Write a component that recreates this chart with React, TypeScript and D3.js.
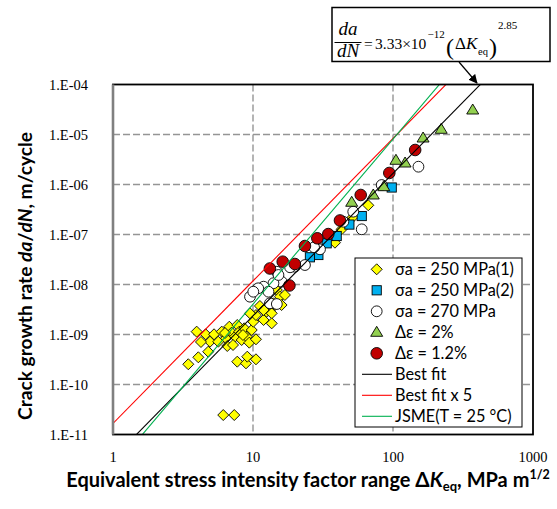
import React from 'react';
import * as d3 from 'd3';

// ---------- data ----------
const xTicks = [1, 10, 100, 1000];
const xTickLabels = ['1', '10', '100', '1000'];
const yTicks = [1e-11, 1e-10, 1e-9, 1e-8, 1e-7, 1e-6, 1e-5, 1e-4];
const yTickLabels = ['1.E-11', '1.E-10', '1.E-09', '1.E-08', '1.E-07', '1.E-06', '1.E-05', '1.E-04'];

// [ΔKeq (MPa m^1/2), da/dN (m/cycle)]
const sa250_1: [number, number][] = [
  [3.45, 2.54e-10], [3.96, 1.14e-9], [4.07, 3.5e-10], [4.59, 1.01e-9], [4.79, 4.53e-10],
  [4.93, 7.18e-10], [5.27, 1.01e-9], [5.65, 7.18e-10], [5.98, 1.14e-9], [6.41, 8.4e-10],
  [6.55, 5.89e-10], [6.77, 1.43e-9], [7.04, 1.09e-9], [7.44, 9.04e-10], [7.72, 1.55e-9],
  [7.98, 1.14e-9], [8.3, 7.76e-10], [8.66, 1.33e-9], [9.01, 9.04e-10], [9.41, 6.86e-10],
  [9.79, 1.23e-9], [10.5, 8.02e-10], [10.05, 1.8e-9], [10.5, 2.45e-9], [11.9, 1.95e-9],
  [12.5, 2.86e-9], [13.6, 2.65e-9], [14.4, 3.89e-9], [11.2, 3.72e-9], [9.52, 2.65e-9],
  [7.72, 2.86e-10], [8.91, 2.65e-10], [9.1, 3.6e-10], [10.5, 3.19e-10], [6.13, 2.45e-11],
  [7.35, 2.45e-11], [13.6, 1.67e-9], [7.2, 6.17e-10], [8.48, 9.77e-10], [6.31, 1.07e-9],
  [4.25, 7.08e-10], [14.8, 7.76e-9], [15.6, 5.7e-9], [16.9, 6.17e-9], [16.0, 3.89e-9],
  [14.0, 4.21e-9], [11.9, 3.09e-9], [38.5, 6.86e-8], [43.0, 1.27e-7], [51.5, 2.21e-7],
  [66.6, 3.84e-7],
];
const sa250_2: [number, number][] = [
  [97.9, 8.71e-7], [59.8, 2.34e-7], [48.8, 1.58e-7], [39.6, 9.33e-8], [33.6, 6.67e-8],
  [29.3, 3.89e-8], [25.5, 3.5e-8],
];
const sa270: [number, number][] = [
  [152, 2.27e-6], [83.0, 9.77e-7], [52.0, 2.86e-7], [59.8, 1.27e-7], [44.2, 1.8e-7],
  [30.1, 5.06e-8], [27.3, 5.55e-8], [23.5, 2.45e-8], [19.9, 2.27e-8], [18.4, 2.21e-8],
  [14.8, 1.8e-8], [16.0, 1.14e-8], [14.0, 1.06e-8], [11.9, 9.04e-9], [10.9, 8.4e-9],
  [12.9, 7.18e-9], [9.52, 5.7e-9], [13.2, 4.21e-9], [15.2, 1.55e-8], [10.05, 7.18e-9],
  [14.8, 4.07e-9],
];
const de2: [number, number][] = [
  [371, 3.09e-5], [221, 1.27e-5], [164, 8.51e-6], [122, 2.69e-6], [105, 3.05e-6],
  [85.9, 9.04e-7], [72.3, 6.17e-7], [50.7, 4.41e-7],
];
const de12: [number, number][] = [
  [144, 4.9e-6], [94.1, 1.7e-6], [58.8, 6.17e-7], [41.8, 1.91e-7], [34.5, 1.02e-7],
  [28.8, 8.4e-8], [23.5, 5.89e-8], [16.3, 2.86e-8], [19.9, 2.57e-8], [13.2, 2.09e-8],
  [18.2, 9.55e-9],
];
// da/dN = C * ΔK^m
const fitBest = { C: 3.33e-12, m: 2.85 };
const fitBest5 = { C: 3.33e-12 * 5, m: 2.85 };
const fitJSME = { C: 2.03e-12, m: 3.3 };

const legendLabels = [
  'σa = 250 MPa(1)', 'σa = 250 MPa(2)', 'σa = 270 MPa', 'Δε = 2%', 'Δε = 1.2%',
  'Best fit', 'Best fit x 5', 'JSME(T = 25 °C)',
];

// ---------- layout ----------
const W = 557, H = 509;
const L = 113, R = 533, T = 84.5, B = 434.5;
const x = d3.scaleLog().domain([1, 1000]).range([L, R]);
const y = d3.scaleLog().domain([1e-11, 1e-4]).range([B, T]);

const sans = 'Lato, "Open Sans", sans-serif';
const serif = '"Liberation Serif", "Times New Roman", serif';

type Kind = 'diamond' | 'square' | 'circle' | 'triangle' | 'bigcircle';
function Marker({ kind, cx, cy, fill }: { kind: Kind; cx: number; cy: number; fill: string }) {
  const s = { fill, stroke: '#000', strokeWidth: 0.9 };
  if (kind === 'diamond') {
    const r = 5.5;
    return <path d={`M${cx},${cy - r}L${cx + r},${cy}L${cx},${cy + r}L${cx - r},${cy}Z`} {...s} />;
  }
  if (kind === 'square') {
    const h = 4.6;
    return <rect x={cx - h} y={cy - h} width={2 * h} height={2 * h} {...s} />;
  }
  if (kind === 'circle') return <circle cx={cx} cy={cy} r={5.4} {...s} />;
  if (kind === 'bigcircle') return <circle cx={cx} cy={cy} r={5.8} {...s} />;
  const w = 6, h = 10;
  return <path d={`M${cx},${cy - h * 0.6}L${cx + w},${cy + h * 0.4}L${cx - w},${cy + h * 0.4}Z`} {...s} />;
}

const seriesDefs: { data: [number, number][]; kind: Kind; fill: string }[] = [
  { data: sa250_1, kind: 'diamond', fill: '#FFFF00' },
  { data: sa250_2, kind: 'square', fill: '#00B0F0' },
  { data: sa270, kind: 'circle', fill: '#FFFFFF' },
  { data: de2, kind: 'triangle', fill: '#92D050' },
  { data: de12, kind: 'bigcircle', fill: '#C00000' },
];
const fitDefs = [
  { p: fitBest, color: '#000000' },
  { p: fitBest5, color: '#FF0000' },
  { p: fitJSME, color: '#00B050' },
];

export default function App() {
  const fitPath = (p: { C: number; m: number }) => {
    const ks = [1, 1000];
    const l = d3.line<number>().x((k) => x(k)).y((k) => y(p.C * Math.pow(k, p.m)));
    return l(ks) || '';
  };
  const legY0 = 269.3, legDy = 21;
  return (
    <svg width={W} height={H} style={{ position: 'absolute', left: 0, top: 0, background: '#fff' }}>
      <defs>
        <clipPath id="plot"><rect x={L} y={T} width={R - L} height={B - T} /></clipPath>
        <marker id="arr" viewBox="0 0 10 10" refX="9" refY="5" markerWidth="9" markerHeight="9" orient="auto" markerUnits="userSpaceOnUse">
          <path d="M0,0L10,5L0,10Z" fill="#000" />
        </marker>
      </defs>
      <rect x={0} y={0} width={W} height={H} fill="#fff" />
      {/* grid */}
      {yTicks.slice(1, -1).map((t) => (
        <line key={'gy' + t} x1={L} x2={R} y1={y(t)} y2={y(t)} stroke="#959595" strokeWidth={1.4} strokeDasharray="7,3" />
      ))}
      {xTicks.slice(1, -1).map((t) => (
        <line key={'gx' + t} x1={x(t)} x2={x(t)} y1={T} y2={B} stroke="#959595" strokeWidth={1.4} strokeDasharray="7,3" />
      ))}
      {/* markers */}
      <g>
        {seriesDefs.map((s, i) => (
          <g key={i}>
            {s.data.map((d, j) => (
              <Marker key={j} kind={s.kind} cx={x(d[0])} cy={y(d[1])} fill={s.fill} />
            ))}
          </g>
        ))}
      </g>
      {/* fit lines */}
      <g clipPath="url(#plot)">
        {fitDefs.map((f, i) => (
          <path key={i} d={fitPath(f.p)} fill="none" stroke={f.color} strokeWidth={1.1} />
        ))}
      </g>
      {/* frame */}
      <rect x={L} y={T} width={R - L} height={B - T} fill="none" stroke="#000" strokeWidth={1.8} />
      <line x1={L} x2={L} y1={T} y2={B} stroke="#808080" strokeWidth={2.6} />
      {/* ticks labels */}
      {yTicks.map((t, i) => (
        <text key={'yl' + t} x={88} y={y(t) + 5} textAnchor="end" fontFamily={serif} fontSize={14.5} fill="#000">
          {yTickLabels[i]}
        </text>
      ))}
      {xTicks.map((t, i) => (
        <text key={'xl' + t} x={x(t)} y={462} textAnchor="middle" fontFamily={serif} fontSize={14.5} fill="#000">
          {xTickLabels[i]}
        </text>
      ))}
      {/* axis titles */}
      <text x={308} y={487} textAnchor="middle" fontFamily={sans} fontWeight="bold" fontSize={20} fill="#000">
        Equivalent stress intensity factor range <tspan fontSize={20.5}>Δ</tspan>
        <tspan fontStyle="italic" fontSize={20.5}>K</tspan>
        <tspan fontSize={13} dy={4}>eq</tspan>
        <tspan dy={-4}>, MPa m</tspan>
        <tspan fontSize={12.5} dy={-8}>1/2</tspan>
      </text>
      <text transform="translate(32,276) rotate(-90)" textAnchor="middle" fontFamily={sans} fontWeight="bold" fontSize={19.2} fill="#000">
        Crack growth rate <tspan fontStyle="italic">da</tspan>/<tspan fontStyle="italic">dN</tspan>, m/cycle
      </text>
      {/* legend */}
      <rect x={355} y={258} width={167} height={169} fill="#fff" stroke="#000" strokeWidth={1} />
      {legendLabels.map((lab, i) => {
        const cy = legY0 + i * legDy;
        return (
          <g key={'lg' + i}>
            {i < 5 ? (
              <Marker kind={seriesDefs[i].kind} cx={376.7} cy={cy} fill={seriesDefs[i].fill} />
            ) : (
              <line x1={362} x2={392} y1={cy} y2={cy} stroke={fitDefs[i - 5].color} strokeWidth={1.1} />
            )}
            <text x={395} y={cy + 5.8} fontFamily={sans} fontSize={16.3} fill="#000">{lab}</text>
          </g>
        );
      })}
      {/* equation box */}
      <rect x={332} y={7.5} width={218} height={54} fill="#fff" stroke="#000" strokeWidth={1.5} />
      <g fontFamily={serif} fill="#000">
        <text x={348} y={35} textAnchor="middle" fontStyle="italic" fontSize={19}>da</text>
        <line x1={334.5} x2={361.5} y1={42.5} y2={42.5} stroke="#000" strokeWidth={1} />
        <text x={348} y={57} textAnchor="middle" fontStyle="italic" fontSize={19}>dN</text>
        <text x={364} y={48.5} fontSize={15.5}>=</text>
        <text x={375} y={48.5} fontSize={15.5}>3.33×10</text>
        <text x={427.5} y={37.5} fontSize={11}>−12</text>
        <text x={446} y={54.5} fontSize={24}>(</text>
        <text x={455} y={48.5} fontSize={17}>Δ<tspan fontStyle="italic">K</tspan></text>
        <text x={478} y={54.5} fontSize={10.5}>eq</text>
        <text x={489} y={54.5} fontSize={24}>)</text>
        <text x={498} y={29} fontSize={11}>2.85</text>
      </g>
      <line x1={459} y1={62} x2={477} y2={83} stroke="#000" strokeWidth={1.2} markerEnd="url(#arr)" />
    </svg>
  );
}
